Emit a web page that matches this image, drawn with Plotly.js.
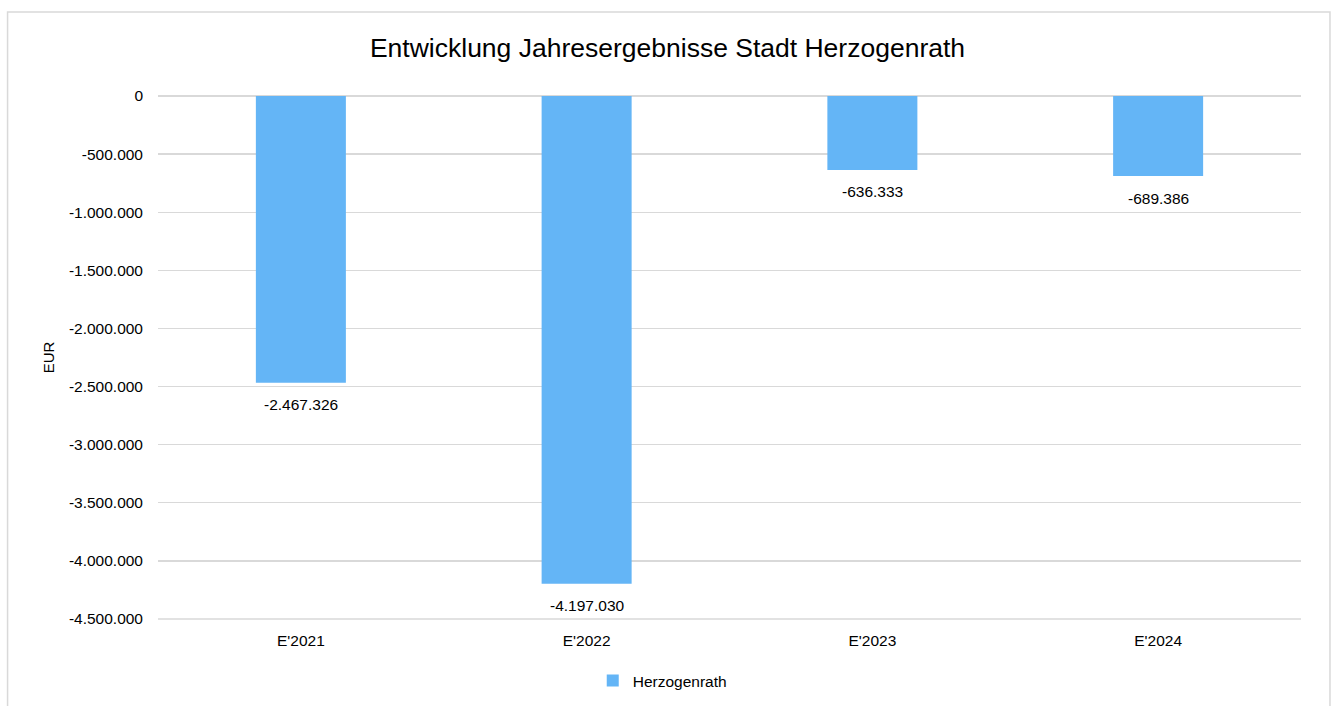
<!DOCTYPE html>
<html>
<head>
<meta charset="utf-8">
<script src="https://cdn.plot.ly/plotly-3.0.1.min.js"></script>
<style>
html,body{margin:0;padding:0;background:#fff;}
#chart{width:1335px;height:706px;}
</style>
</head>
<body>
<div id="chart"></div>
<script>
// ---- data ----
const categories = ["E'2021", "E'2022", "E'2023", "E'2024"];
const seriesName = "Herzogenrath";
const values = [-2467326, -4197030, -636333, -689386];
const yTickVals = [0, -500000, -1000000, -1500000, -2000000, -2500000, -3000000, -3500000, -4000000, -4500000];
const chartTitle = "Entwicklung Jahresergebnisse Stadt Herzogenrath";
const yTitle = "EUR";

function fmt(v) {
  const neg = v < 0;
  let s = String(Math.abs(Math.round(v)));
  s = s.replace(/\B(?=(\d{3})+(?!\d))/g, ".");
  return (neg ? "-" : "") + s;
}

const font = "Liberation Sans, Arial, sans-serif";
const W = 1335, H = 706;
const L = 157.5, R = 1301, T = 96, B = 619;
const pw = R - L, ph = B - T;

const trace = {
  type: "bar",
  x: categories,
  y: values,
  name: seriesName,
  marker: {color: "#64B5F6"},
  width: 0.315,
  hoverinfo: "x+y"
};

const annotations = values.map((v, i) => ({
  x: categories[i], y: v, xref: "x", yref: "y",
  text: fmt(v), showarrow: false,
  yanchor: "middle", yshift: -22,
  font: {family: font, size: 15.5, color: "#000"}
}));

const layout = {
  width: W, height: H,
  margin: {l: L, r: W - R, t: T, b: H - B, pad: 0},
  paper_bgcolor: "#fff", plot_bgcolor: "#fff",
  font: {family: font, size: 15.5, color: "#000"},
  title: {text: chartTitle, font: {family: font, size: 26.5, color: "#000"},
          x: 0.5, xref: "container", xanchor: "center", y: 1 - 48/H, yref: "container", yanchor: "middle"},
  showlegend: true,
  legend: {orientation: "h", xref: "container", yref: "container", x: 0.444, xanchor: "left",
           y: 1 - 681/H, yanchor: "middle", font: {family: font, size: 15.5, color: "#000"},
           bgcolor: "rgba(0,0,0,0)", itemwidth: 30},
  bargap: 0.685,
  xaxis: {
    type: "category", showgrid: false, zeroline: false, showline: false,
    ticks: "", ticklabelstandoff: 10, tickfont: {family: font, size: 15.5, color: "#000"}
  },
  yaxis: {
    range: [-4500000, 0], tickvals: yTickVals, ticktext: yTickVals.map(fmt),
    showgrid: true, gridcolor: "#d9d9d9", gridwidth: 1.3,
    zeroline: true, zerolinecolor: "#d9d9d9", zerolinewidth: 1.3,
    showline: false, ticks: "", ticklabelstandoff: 14,
    tickfont: {family: font, size: 15.5, color: "#000"},
    title: {text: yTitle, font: {family: font, size: 15, color: "#000"}, standoff: 10}
  },
  annotations: annotations,
  shapes: [{
    type: "rect", xref: "paper", yref: "paper",
    x0: (7 - L)/pw, x1: (1330 - L)/pw, y0: (B - 720)/ph, y1: (B - 12)/ph,
    line: {color: "#d9d9d9", width: 1.5}, fillcolor: "rgba(0,0,0,0)", layer: "below"
  }, {
    // bottom edge gridline (Plotly skips gridlines on the plot edge)
    type: "line", xref: "paper", yref: "paper", x0: 0, x1: 1, y0: 0, y1: 0,
    line: {color: "#d9d9d9", width: 1.3}, layer: "below"
  }]
};

Plotly.newPlot("chart", [trace], layout, {displayModeBar: false, staticPlot: true});
</script>
</body>
</html>
